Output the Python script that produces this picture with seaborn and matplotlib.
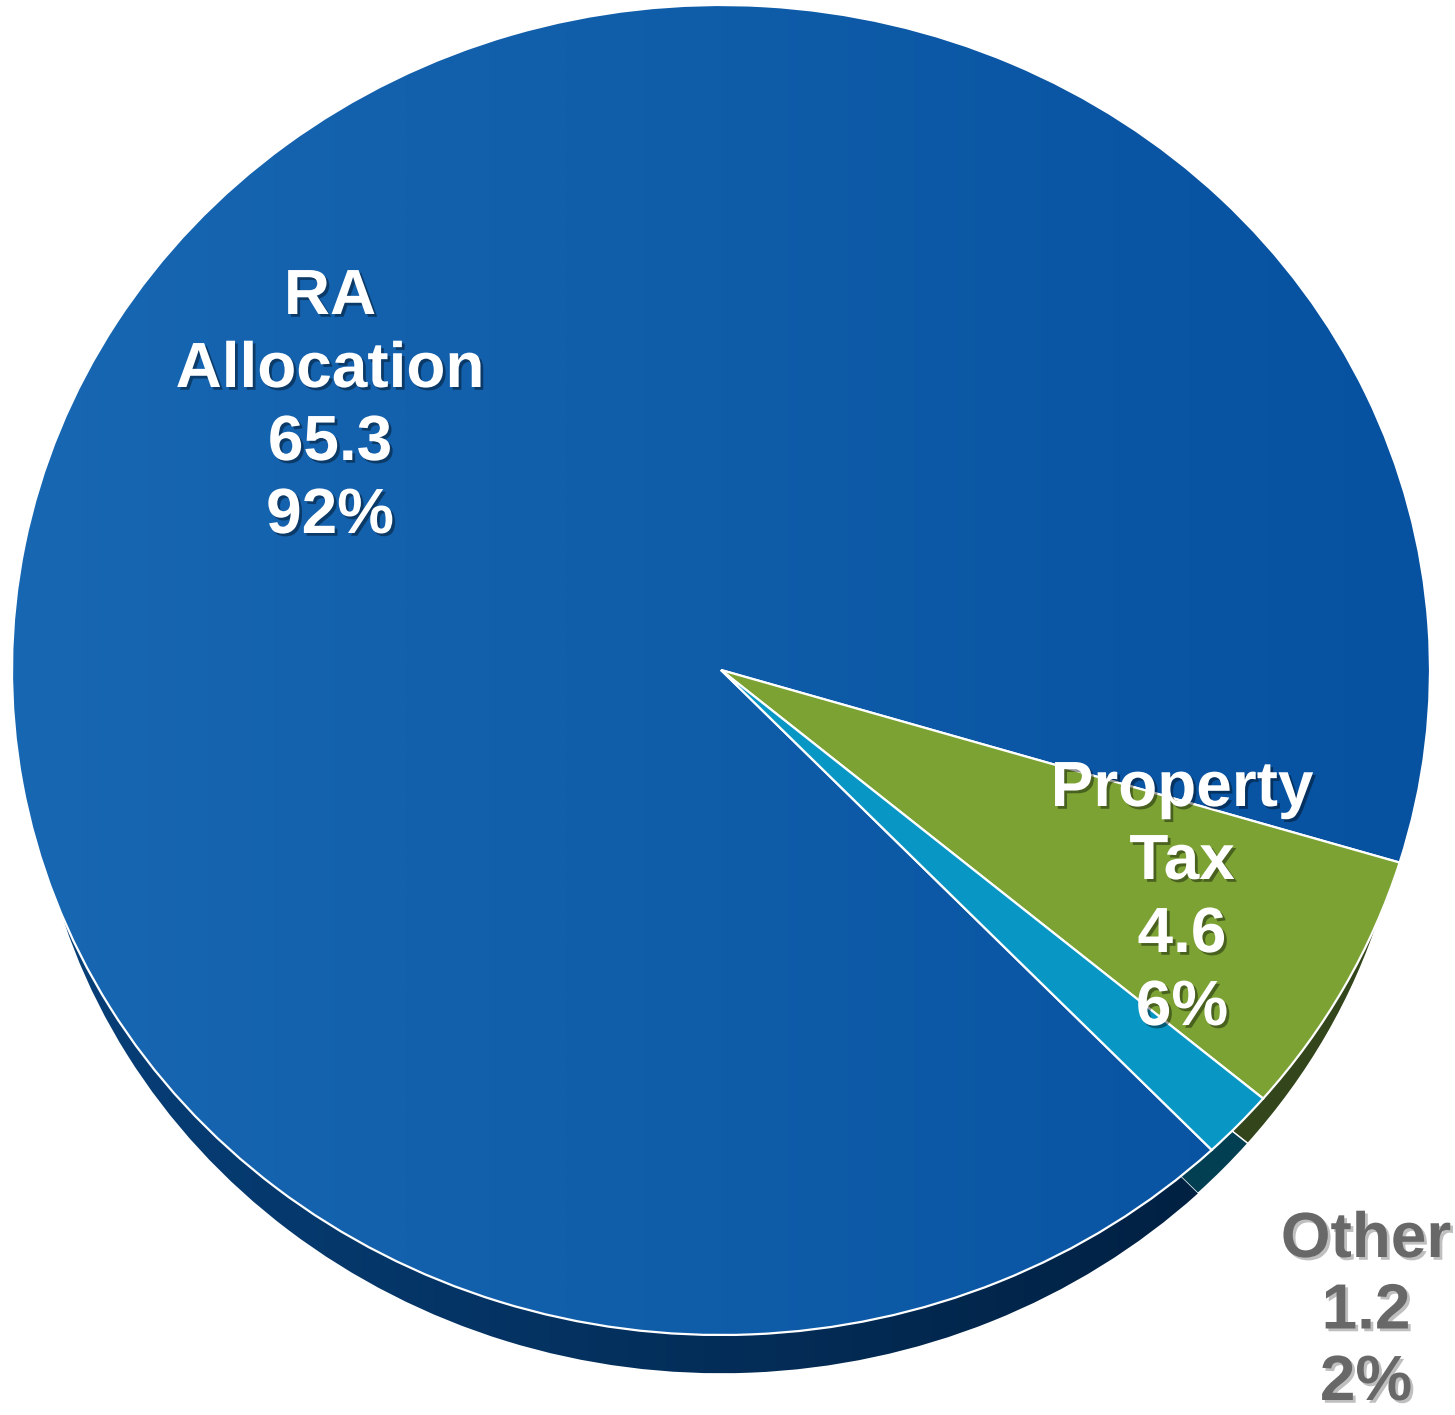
import numpy as np
import matplotlib
matplotlib.use("Agg")
import matplotlib.pyplot as plt
import matplotlib.patheffects as pe
from matplotlib.colors import LinearSegmentedColormap
import seaborn as sns

# Revenue sources (amounts in millions)
categories = ["RA\nAllocation", "Property\nTax", "Other"]
amounts = [65.3, 4.6, 1.2]
top_colors = ["#1060AA", "#7BA233", "#0897C4"]
side_colors = ["#012347", "#33451A", "#023F52"]
label_colors = ["white", "white", "#686868"]

sns.set_theme(style="white")
plt.rcParams["font.family"] = ["Liberation Sans", "DejaVu Sans"]

W, H = 1455, 1415
fig = plt.figure(figsize=(W / 100, H / 100), dpi=100)
ax = fig.add_axes([0, 0, 1, 1])

# vertical squash so the pie reads as a tilted disc
k = 709 / 665


def py(y):
    return (H - y) * k


cx, cy, r = 721, 670, 709
# lower disc: slightly smaller and lower, so the wall shows only on the front
r_low, cy_low = 689, 727
start = -46.2

# side wall
side, _ = ax.pie(amounts, colors=side_colors, startangle=start, counterclock=False,
                 center=(cx, py(cy_low)), radius=r_low,
                 wedgeprops=dict(edgecolor="white", linewidth=1.0, zorder=1))
# top face
top, _ = ax.pie(amounts, colors=top_colors, startangle=start, counterclock=False,
                center=(cx, py(cy)), radius=r,
                wedgeprops=dict(edgecolor="white", linewidth=1.6, zorder=3))

grad = np.linspace(0, 1, 256).reshape(1, -1)
cm_top = LinearSegmentedColormap.from_list("top", ["#1867B2", "#0651A0"])
cm_side = LinearSegmentedColormap.from_list("side", ["#07407A", "#001B38"])

im_top = ax.imshow(grad, cmap=cm_top, extent=[cx - r, cx + r, 0, H * k],
                   aspect="auto", zorder=2.5, interpolation="bicubic")
im_top.set_clip_path(top[0])
top[0].set_facecolor("none")

im_side = ax.imshow(grad, cmap=cm_side, extent=[cx - r, cx + r, 0, H * k],
                    aspect="auto", zorder=1.5, interpolation="bicubic")
im_side.set_clip_path(side[0])
side[0].set_facecolor("none")

# labels: name lines, amount, share
total = sum(amounts)
anchors = [(330, 314, 73.0), (1182, 806, 73.0), (1366, 1257, 71.5)]
for name, a, col, (lx, ly, step) in zip(categories, amounts, label_colors, anchors):
    lines = name.split("\n") + [f"{a:.1f}", f"{round(100 * a / total)}%"]
    for j, line in enumerate(lines):
        ax.text(lx, py(ly + j * step), line, ha="center", va="baseline",
                fontsize=46, fontweight="bold", color=col, zorder=5,
                path_effects=[pe.SimplePatchShadow(offset=(2, -2), shadow_rgbFace="black",
                                                   alpha=0.4 if col == "white" else 0.25),
                              pe.Normal()])

ax.set_aspect("auto")
ax.set_xlim(0, W)
ax.set_ylim(0, H * k)
ax.axis("off")

fig.savefig("out.png", dpi=100, facecolor="white")
